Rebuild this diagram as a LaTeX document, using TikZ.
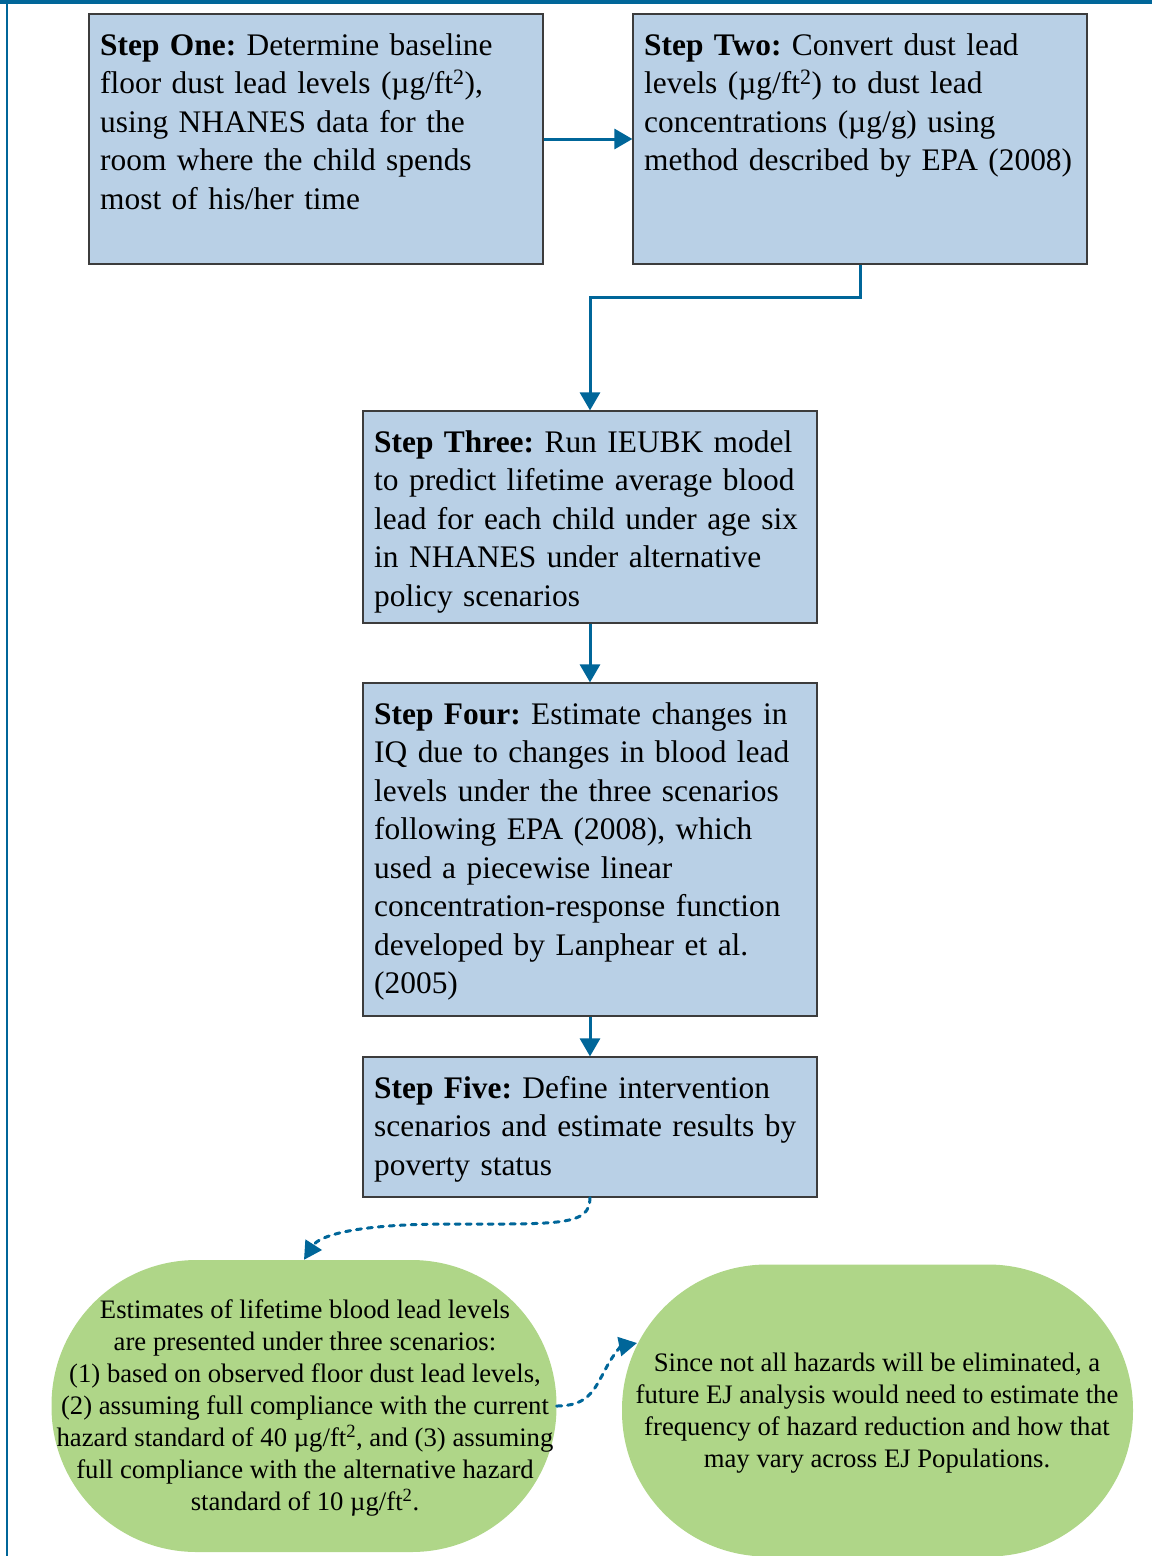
\documentclass[tikz,border=0pt]{standalone}
\usepackage{fontspec}
\setmainfont{Liberation Serif}
\frenchspacing
\usetikzlibrary{arrows.meta}
\definecolor{lineblue}{RGB}{0,102,153}
\definecolor{boxblue}{RGB}{185,208,230}
\definecolor{boxedge}{RGB}{60,60,60}
\definecolor{ovalgreen}{RGB}{175,214,136}
\tikzset{
  stepbox/.style={draw=boxedge, line width=1.2pt, fill=boxblue, rectangle, inner sep=0pt},
  steptext/.style={anchor=base west, inner sep=0pt, align=left, text width=440pt,
    font=\fontsize{31.4pt}{38.5pt}\selectfont\frenchspacing},
  ovalbox/.style={fill=ovalgreen, rectangle, rounded corners=145pt, inner sep=0pt},
  ovaltext/.style={align=center, inner sep=0pt, font=\fontsize{26.7pt}{32pt}\selectfont\frenchspacing},
  flow/.style={draw=lineblue, line width=3pt, -{Triangle[length=18pt,width=20pt]}},
  dotflow/.style={draw=lineblue, line width=3pt, line cap=round, dash pattern=on 5pt off 6pt,
    -{Triangle[length=18pt,width=19pt]}},
}
\begin{document}
\begin{tikzpicture}[x=1pt,y=-1pt]
\useasboundingbox (0,0) rectangle (1152,1556);
% frame
\fill[lineblue] (0,0) rectangle (1152,4);
\draw[lineblue, line width=1.5pt] (7,0) -- (7,1556);

% boxes
\node[stepbox, minimum width=454pt, minimum height=250pt] (s1) at (316,139) {};
\node[stepbox, minimum width=454pt, minimum height=250pt] (s2) at (860,139) {};
\node[stepbox, minimum width=454pt, minimum height=212pt] (s3) at (590,517) {};
\node[stepbox, minimum width=454pt, minimum height=333pt] (s4) at (590,849.5) {};
\node[stepbox, minimum width=454pt, minimum height=140pt] (s5) at (590,1127) {};

\node[steptext] (t1) at (100,55) {\textbf{Step One:} Determine baseline\\floor dust lead levels (µg/ft\textsuperscript{2}),\\using NHANES data for the\\room where the child spends\\most of his/her time};
\node[steptext] (t2) at (644,55) {\textbf{Step Two:} Convert dust lead\\levels (µg/ft\textsuperscript{2}) to dust lead\\concentrations (µg/g) using\\method described by EPA (2008)};
\node[steptext] (t3) at (374,452) {\textbf{Step Three:} Run IEUBK model\\to predict lifetime average blood\\lead for each child under age six\\in NHANES under alternative\\policy scenarios};
\node[steptext] (t4) at (374,724) {\textbf{Step Four:} Estimate changes in\\IQ due to changes in blood lead\\levels under the three scenarios\\following EPA (2008), which\\used a piecewise linear\\concentration-response function\\developed by Lanphear et al.\\(2005)};
\node[steptext] (t5) at (374,1098) {\textbf{Step Five:} Define intervention\\scenarios and estimate results by\\poverty status};

% ovals
\node[ovalbox, minimum width=505pt, minimum height=292pt] (g1) at (304,1406) {};
\node[ovalbox, minimum width=511pt, minimum height=292pt] (g2) at (877.5,1410.5) {};
\node[ovaltext] (gt1) at (305,1408) {Estimates of lifetime blood lead levels\\are presented under three scenarios:\\(1) based on observed floor dust lead levels,\\(2) assuming full compliance with the current\\hazard standard of 40 µg/ft\textsuperscript{2}, and (3) assuming\\full compliance with the alternative hazard\\standard of 10 µg/ft\textsuperscript{2}.};
\node[ovaltext] (gt2) at (877,1413) {Since not all hazards will be eliminated, a\\future EJ analysis would need to estimate the\\frequency of hazard reduction and how that\\may vary across EJ Populations.};

% connectors
\draw[flow] (s1.east) -- (s2.west);
\draw[flow] (s2.south) -- ++(0,33) -| (s3.north);
\draw[flow] (s3.south) -- (s4.north);
\draw[flow] (s4.south) -- (s5.north);
\coordinate (g2in) at (637,1343);
\draw[dotflow] (s5.south) .. controls (590,1226) and (560,1224) .. (450,1224) .. controls (345,1224) and (318,1238) .. (g1.north);
\draw[dotflow] (g1.east) .. controls (588,1406) and (594,1390) .. (604,1372) .. controls (614,1352) and (622,1346) .. (g2in);
\end{tikzpicture}
\end{document}
